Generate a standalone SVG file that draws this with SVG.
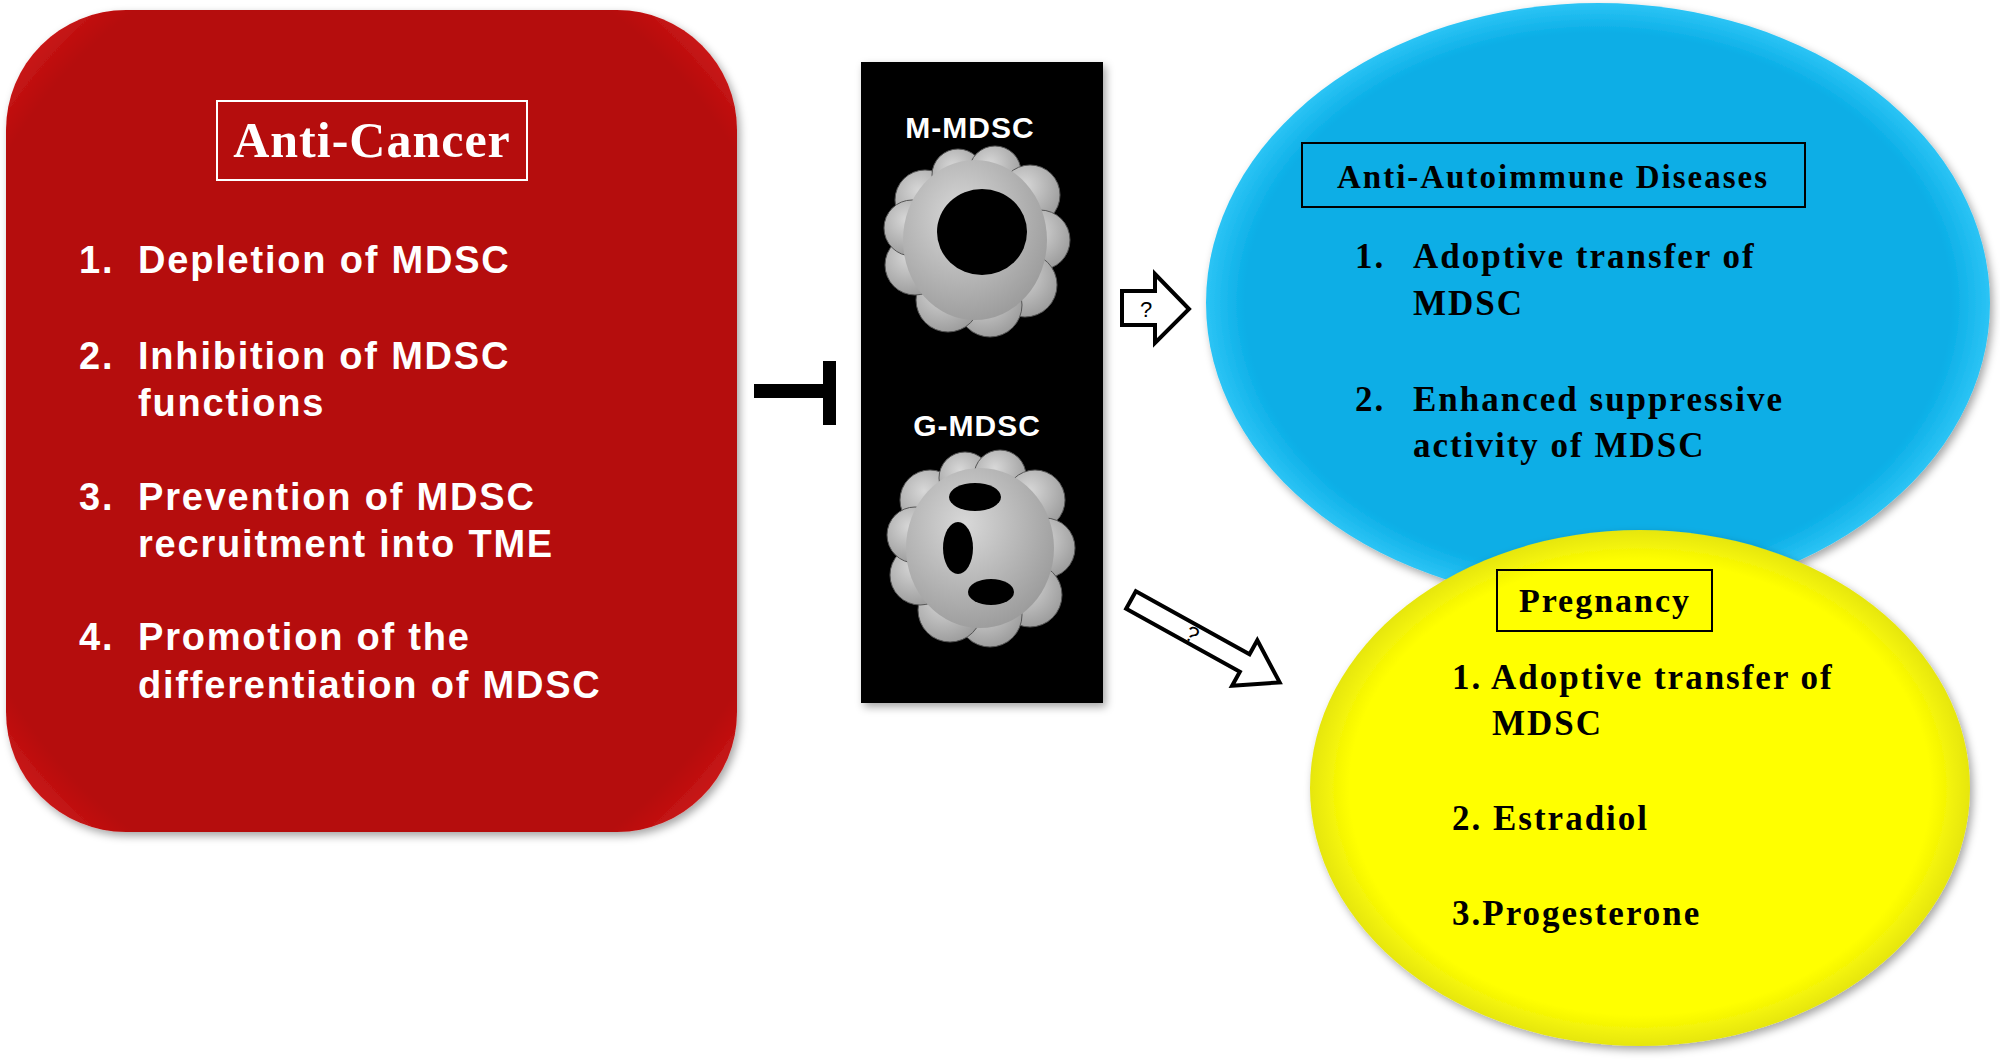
<svg xmlns="http://www.w3.org/2000/svg" width="2000" height="1061" viewBox="0 0 2000 1061">
<defs>
<filter id="sh" x="-10%" y="-10%" width="120%" height="120%"><feDropShadow dx="3" dy="4" stdDeviation="4" flood-color="#000" flood-opacity="0.35"/></filter>
<radialGradient id="redg" cx="50%" cy="50%" r="70%"><stop offset="85%" stop-color="#b50808"/><stop offset="100%" stop-color="#e02a2a"/></radialGradient>
<radialGradient id="blueg" cx="50%" cy="50%" r="50%"><stop offset="90%" stop-color="#0aaee6"/><stop offset="100%" stop-color="#2cc4f5"/></radialGradient>
<radialGradient id="yelg" cx="50%" cy="50%" r="50%"><stop offset="88%" stop-color="#ffff00"/><stop offset="100%" stop-color="#e6e610"/></radialGradient>
<radialGradient id="cell" cx="40%" cy="35%" r="70%"><stop offset="0%" stop-color="#d8d8d8"/><stop offset="100%" stop-color="#9a9a9a"/></radialGradient>
<style>
.wt{font-family:"Liberation Sans",Arial,sans-serif;font-weight:bold;fill:#fff;font-size:38px;letter-spacing:1.8px}
.bt{font-family:"Liberation Serif","Times New Roman",serif;font-weight:bold;fill:#000;font-size:35px;letter-spacing:2px}
.arr{fill:#fff;stroke:#000;stroke-width:4}
</style>
</defs>
<rect width="2000" height="1061" fill="#fff"/>
<g id="anti-cancer">
<rect x="6" y="10" width="731" height="822" rx="120" fill="url(#redg)" filter="url(#sh)"/>
<rect x="217" y="101" width="310" height="79" fill="none" stroke="#fff" stroke-width="2"/>
<text x="372" y="157" text-anchor="middle" font-family="Liberation Serif,serif" font-weight="bold" font-size="50" letter-spacing="1" fill="#fff">Anti-Cancer</text>
<text class="wt" x="79" y="273">1.</text><text class="wt" x="138" y="273">Depletion of MDSC</text>
<text class="wt" x="79" y="369">2.</text><text class="wt" x="138" y="369">Inhibition of MDSC</text><text class="wt" x="138" y="416">functions</text>
<text class="wt" x="79" y="510">3.</text><text class="wt" x="138" y="510">Prevention of MDSC</text><text class="wt" x="138" y="557">recruitment into TME</text>
<text class="wt" x="79" y="650">4.</text><text class="wt" x="138" y="650">Promotion of the</text><text class="wt" x="138" y="698">differentiation of MDSC</text>
</g>
<g id="mdsc">
<rect x="861" y="62" width="242" height="641" fill="#000" filter="url(#sh)"/>
<text x="970" y="138" text-anchor="middle" font-family="Liberation Sans,sans-serif" font-weight="bold" font-size="30" letter-spacing="1" fill="#fff">M-MDSC</text>
<g fill="url(#cell)" stroke="#555" stroke-width="1">
<circle cx="925" cy="200" r="30"/><circle cx="958" cy="175" r="26"/><circle cx="995" cy="172" r="26"/><circle cx="1030" cy="195" r="30"/><circle cx="1040" cy="240" r="30"/><circle cx="1025" cy="285" r="32"/><circle cx="990" cy="305" r="32"/><circle cx="948" cy="300" r="32"/><circle cx="915" cy="265" r="30"/><circle cx="912" cy="228" r="28"/>
<ellipse cx="975" cy="240" rx="72" ry="80" stroke="none"/>
</g>
<ellipse cx="982" cy="232" rx="45" ry="43" fill="#000"/>
<text x="977" y="436" text-anchor="middle" font-family="Liberation Sans,sans-serif" font-weight="bold" font-size="30" letter-spacing="1" fill="#fff">G-MDSC</text>
<g fill="url(#cell)" stroke="#555" stroke-width="1">
<circle cx="930" cy="500" r="30"/><circle cx="965" cy="478" r="26"/><circle cx="1000" cy="476" r="26"/><circle cx="1035" cy="500" r="30"/><circle cx="1045" cy="548" r="30"/><circle cx="1030" cy="595" r="32"/><circle cx="990" cy="615" r="32"/><circle cx="950" cy="610" r="32"/><circle cx="920" cy="575" r="30"/><circle cx="915" cy="535" r="28"/>
<ellipse cx="980" cy="548" rx="74" ry="80" stroke="none"/>
</g>
<ellipse cx="975" cy="497" rx="26" ry="14" fill="#000"/>
<ellipse cx="958" cy="548" rx="15" ry="26" fill="#000"/>
<ellipse cx="991" cy="592" rx="23" ry="13" fill="#000"/>
</g>
<g id="autoimmune">
<ellipse cx="1598" cy="303" rx="392" ry="300" fill="url(#blueg)" filter="url(#sh)"/>
<rect x="1302" y="143" width="503" height="64" fill="none" stroke="#000" stroke-width="2"/>
<text x="1553" y="188" text-anchor="middle" class="bt" font-size="33" style="font-size:33px">Anti-Autoimmune  Diseases</text>
<text class="bt" x="1355" y="268">1.</text><text class="bt" x="1413" y="268">Adoptive transfer of</text><text class="bt" x="1413" y="315">MDSC</text>
<text class="bt" x="1355" y="411">2.</text><text class="bt" x="1413" y="411">Enhanced suppressive</text><text class="bt" x="1413" y="457">activity of MDSC</text>
</g>
<g id="pregnancy">
<ellipse cx="1640" cy="788" rx="330" ry="258" fill="url(#yelg)" filter="url(#sh)"/>
<rect x="1497" y="570" width="215" height="61" fill="none" stroke="#000" stroke-width="2"/>
<text x="1605" y="612" text-anchor="middle" class="bt" style="font-size:34px">Pregnancy</text>
<text class="bt" x="1452" y="689">1. Adoptive transfer of</text><text class="bt" x="1492" y="735">MDSC</text>
<text class="bt" x="1452" y="830">2. Estradiol</text>
<text class="bt" x="1452" y="925">3.Progesterone</text>
</g>
<g id="connectors">
<path d="M754 384 H823 V361 H836 V425 H823 V398 H754 Z" fill="#000"/>
<path class="arr" d="M1122 291 H1155 V274 L1189 309 L1155 343 V325 H1122 Z"/>
<text x="1146" y="317" text-anchor="middle" font-family="Liberation Sans,sans-serif" font-size="22">?</text>
<g transform="translate(1131,600) rotate(29)">
<path class="arr" d="M0 -10 H130 V-26 L170 0 L130 26 V10 H0 Z"/>
<text x="70" y="8" text-anchor="middle" font-family="Liberation Sans,sans-serif" font-size="22">?</text>
</g>
</g>
</svg>
